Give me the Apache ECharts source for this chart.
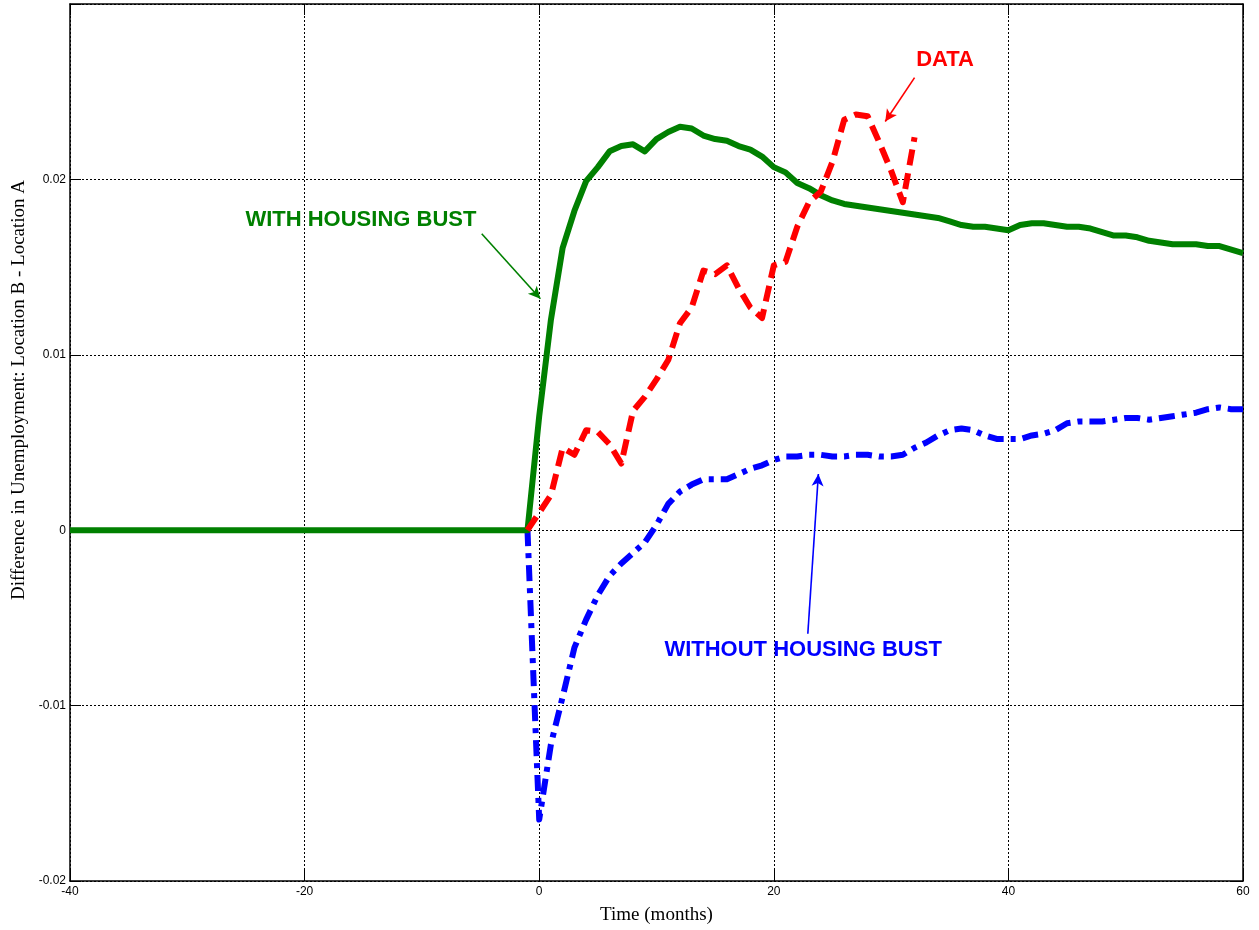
<!DOCTYPE html>
<html>
<head>
<meta charset="utf-8">
<script src="https://cdn.jsdelivr.net/npm/echarts@6/dist/echarts.min.js"></script>
<style>
html,body{margin:0;padding:0;background:#fff;}
#chart{width:1259px;height:930px;}
</style>
</head>
<body>
<div id="chart"></div>
<script>
// ---------- DATA ----------
const greenMonths = [-40,-39,-38,-37,-36,-35,-34,-33,-32,-31,-30,-29,-28,-27,-26,-25,-24,-23,-22,-21,-20,-19,-18,-17,-16,-15,-14,-13,-12,-11,-10,-9,-8,-7,-6,-5,-4,-3,-2,-1,
  0,1,2,3,4,5,6,7,8,9,10,11,12,13,14,15,16,17,18,19,20,21,22,23,24,25,26,27,28,29,30,31,32,33,34,35,36,37,38,39,40,41,42,43,44,45,46,47,48,49,50,51,52,53,54,55,56,57,58,59,60];
const withHousingBust = [0,0,0,0,0,0,0,0,0,0,0,0,0,0,0,0,0,0,0,0,0,0,0,0,0,0,0,0,0,0,0,0,0,0,0,0,0,0,0,0,
  0.0065,0.0120,0.0161,0.0182,0.0199,0.0207,0.0216,0.0219,0.0220,0.0216,
  0.0223,0.0227,0.0230,0.0229,0.0225,0.0223,0.0222,0.0219,0.0217,0.0213,
  0.0207,0.0204,0.0198,0.0195,0.0191,0.0188,0.0186,0.0185,0.0184,0.0183,
  0.0182,0.0181,0.0180,0.0179,0.0178,0.0176,0.0174,0.0173,0.0173,0.0172,
  0.0171,0.0174,0.0175,0.0175,0.0174,0.0173,0.0173,0.0172,0.0170,0.0168,
  0.0168,0.0167,0.0165,0.0164,0.0163,0.0163,0.0163,0.0162,0.0162,0.0160,0.0158];

const dataMonths = [-1,0,1,2,3,4,5,6,7,8,9,10,11,12,13,14,15,16,17,18,19,20,21,22,23,24,25,26,27,28,29,30,31,32];
const dataValues = [0,0.0010,0.0020,0.0047,0.0043,0.0057,0.0056,0.0049,0.0038,0.0068,0.0076,
  0.0086,0.0097,0.0118,0.0127,0.0148,0.0146,0.0151,0.0138,0.0127,0.0121,
  0.0151,0.0153,0.0173,0.0187,0.0193,0.0210,0.0234,0.0237,0.0236,0.0221,0.0205,0.0187,0.0224];

const blueMonths = [-1,0,1,2,3,4,5,6,7,8,9,10,11,12,13,14,15,16,17,18,19,20,21,22,23,24,25,26,27,28,29,30,31,32,33,34,35,36,37,38,39,40,41,42,43,44,45,46,47,48,49,50,51,52,53,54,55,56,57,58,59,60];
const withoutHousingBust = [0,-0.0165,-0.0122,-0.0095,-0.0067,-0.0051,-0.0037,-0.0026,-0.0019,-0.0013,-0.0007,
  0.0003,0.0015,0.0022,0.0026,0.0029,0.0029,0.0029,0.0032,0.0035,0.0037,
  0.0040,0.0042,0.0042,0.0043,0.0043,0.0042,0.0042,0.0043,0.0043,0.0042,
  0.0042,0.0043,0.0047,0.0050,0.0054,0.0057,0.0058,0.0057,0.0054,0.0052,
  0.0052,0.0052,0.0054,0.0055,0.0057,0.0061,0.0062,0.0062,0.0062,0.0063,
  0.0064,0.0064,0.0063,0.0064,0.0065,0.0066,0.0067,0.0069,0.0070,0.0069,0.0069];

const xTicks = [-40,-20,0,20,40,60];
const yTicks = [-0.02,-0.01,0,0.01,0.02,0.03];

// annotation anchors (data coordinates)
const greenLabel = {text:'WITH HOUSING BUST', at:[-15.2,0.0177], arrowFrom:[-4.9,0.0169], arrowTo:[0.1,0.0132]};
const redLabel = {text:'DATA', at:[34.6,0.0268], arrowFrom:[32.0,0.0258], arrowTo:[29.5,0.0233]};
const blueLabel = {text:'WITHOUT HOUSING BUST', at:[22.5,-0.0068], arrowFrom:[22.9,-0.0059], arrowTo:[23.8,0.0032]};

// ---------- CHART ----------
const zip = (xs, ys) => xs.map((x,i)=>[x, ys[i]]);
const GREEN = '#008000', RED = '#ff0000', BLUE = '#0000ff';

function annot(lbl, color){
  return {
    markLine: {
      silent: true, symbol: ['none','arrow'], symbolSize: [9,12],
      lineStyle: {color: color, width: 1.6, type: 'solid'},
      label: {show:false},
      data: [[{coord: lbl.arrowFrom}, {coord: lbl.arrowTo}]],
      animation: false
    },
    markPoint: {
      silent: true, symbol: 'circle', symbolSize: 0,
      label: {show:true, position:'inside', formatter: lbl.text, color: color,
        fontFamily: 'Liberation Sans, Arial, sans-serif', fontWeight: 'bold', fontSize: 22},
      data: [{coord: lbl.at}],
      animation: false
    }
  };
}

const chart = echarts.init(document.getElementById('chart'), null, {renderer:'canvas'});
const axisCommon = {
  type: 'value',
  axisLine: {show:true, onZero:false, lineStyle:{color:'#000', width:1.5}},
  axisTick: {show:true, inside:true, length:11, lineStyle:{color:'#000', width:1}},
  splitLine: {show:false}
};
chart.setOption({
  animation: false,
  backgroundColor: '#fff',
  grid: {left:70, right:16, top:4, bottom:47, containLabel:false},
  xAxis: [
    Object.assign({}, axisCommon, {
      min: -40, max: 60, interval: 20, position: 'bottom',
      axisLabel: {color:'#000', fontSize:12, fontFamily:'Liberation Sans, Arial, sans-serif', margin:5,
        formatter: v => xTicks.includes(v) ? String(v) : ''},
      splitLine: {show:true, lineStyle:{color:'#000', width:1, type:[2,2]}},
      name: 'Time (months)', nameLocation: 'middle', nameGap: 25,
      nameTextStyle: {color:'#000', fontSize:19, fontFamily:'Liberation Serif, Times New Roman, serif'}
    }),
    Object.assign({}, axisCommon, {min:-40, max:60, interval:20, position:'top', axisLabel:{show:false}})
  ],
  yAxis: [
    Object.assign({}, axisCommon, {
      min: -0.02, max: 0.03, interval: 0.01, position: 'left',
      axisLabel: {color:'#000', fontSize:12, fontFamily:'Liberation Sans, Arial, sans-serif', margin:4,
        formatter: v => (Math.abs(v-0.03) < 1e-9) ? '' : String(+v.toFixed(2))},
      splitLine: {show:true, lineStyle:{color:'#000', width:1, type:[2,2]}}
    }),
    Object.assign({}, axisCommon, {min:-0.02, max:0.03, interval:0.01, position:'right', axisLabel:{show:false}})
  ],
  graphic: [{
    type: 'text', x: 10, y: 390, rotation: Math.PI/2,
    style: {text: 'Difference in Unemployment: Location B - Location A', fill:'#000',
      align: 'center', verticalAlign: 'top',
      font: '19px "Liberation Serif", "Times New Roman", serif'}
  }],
  series: [
    Object.assign({
      name: 'WITHOUT HOUSING BUST', type: 'line', data: zip(blueMonths, withoutHousingBust),
      showSymbol: false, symbol: 'none', smooth: false, z: 2,
      lineStyle: {color: BLUE, width: 6, type: [16,7,5,7], cap: 'butt', join: 'round'}
    }, annot(blueLabel, BLUE)),
    Object.assign({
      name: 'WITH HOUSING BUST', type: 'line', data: zip(greenMonths, withHousingBust),
      showSymbol: false, symbol: 'none', smooth: false, z: 3,
      lineStyle: {color: GREEN, width: 6, type: 'solid', join: 'round'}
    }, annot(greenLabel, GREEN)),
    Object.assign({
      name: 'DATA', type: 'line', data: zip(dataMonths, dataValues),
      showSymbol: false, symbol: 'none', smooth: false, z: 4,
      lineStyle: {color: RED, width: 6, type: [16,8], cap: 'butt', join: 'round'}
    }, annot(redLabel, RED))
  ]
});
</script>
</body>
</html>
